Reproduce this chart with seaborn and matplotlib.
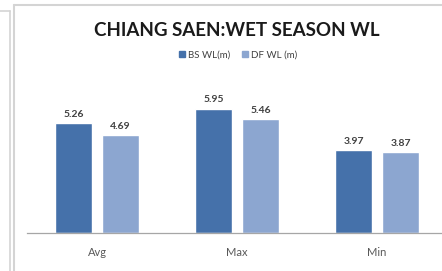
import pandas as pd
import seaborn as sns
from matplotlib import pyplot as plt
from matplotlib.lines import Line2D

categories = ['Avg', 'Max', 'Min']
bs_wl = [5.26, 5.95, 3.97]
df_wl = [4.69, 5.46, 3.87]
series = ['BS WL(m)', 'DF WL (m)']

data = pd.DataFrame({
    'stat': categories * 2,
    'value': bs_wl + df_wl,
    'series': [series[0]] * 3 + [series[1]] * 3,
})

sns.set_style('white')
plt.rcParams['font.family'] = ['Lato', 'DejaVu Sans']

fig = plt.figure(figsize=(4.42, 2.71), dpi=100)
ax = fig.add_axes([27 / 442, 38 / 271, 420 / 442, 163 / 271])

sns.barplot(data=data, x='stat', y='value', hue='series', ax=ax,
            palette=['#4571aa', '#8ca6d0'], width=0.67, gap=0.21,
            saturation=1, legend=False)

# value labels above bars
for cont in ax.containers:
    ax.bar_label(cont, fmt='%.2f', padding=3, fontsize=7.5,
                 color='#404040', fontweight='bold')

ax.set_ylim(0, 7.8)
ax.set_xlim(-0.5, 2.5)
ax.set_xlabel('')
ax.set_ylabel('')
ax.set_yticks([])
ax.tick_params(axis='x', length=0, pad=10, labelsize=8, labelcolor='#595959')
for side in ['top', 'right', 'left']:
    ax.spines[side].set_visible(False)
ax.spines['bottom'].set_color('#a6a6a6')
ax.spines['bottom'].set_linewidth(0.9)

fig.text(237 / 442, 1 - 30 / 271, 'CHIANG SAEN:WET SEASON WL', ha='center',
         va='center', fontsize=13.5, fontweight='bold', color='#1a1a1a')

handles = [plt.Rectangle((0, 0), 1, 1, color=c) for c in ['#4571aa', '#8ca6d0']]
fig.legend(handles, series, loc='center', bbox_to_anchor=(238 / 442, 1 - 55 / 271),
           ncol=2, frameon=False, fontsize=7, handlelength=0.6, handleheight=0.6,
           handletextpad=0.3, columnspacing=1.2, labelcolor='#404040')

# panel borders
gray = '#d4d4d4'
fig.add_artist(Line2D([13.5 / 442, 13.5 / 442], [0, 1 - 5 / 271], color=gray, lw=1.5))
fig.add_artist(Line2D([13.5 / 442, 1], [1 - 5 / 271, 1 - 5 / 271], color=gray, lw=1.5))
fig.add_artist(Line2D([9.5 / 442, 9.5 / 442], [0, 1 - 11 / 271], color=gray, lw=1.2))
fig.add_artist(Line2D([0, 9.5 / 442], [1 - 11 / 271, 1 - 11 / 271], color=gray, lw=1.2))

fig.savefig('out.png', dpi=100)
